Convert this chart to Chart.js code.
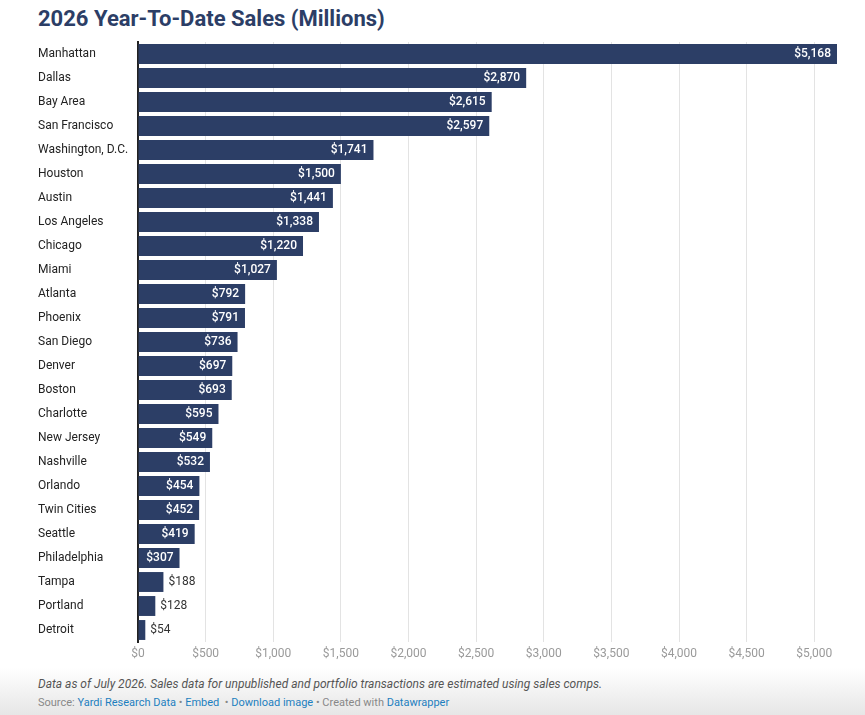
<!DOCTYPE html>
<html>
<head>
<meta charset="utf-8">
<script src="https://cdn.jsdelivr.net/npm/chart.js@4"></script>
<style>
  html, body { margin: 0; padding: 0; }
  body {
    width: 865px; height: 715px; position: relative; overflow: hidden;
    font-family: Roboto, "Noto Sans", sans-serif;
    background: linear-gradient(to bottom, #fff 0px, #fff 668px, #e6e6e6 715px);
  }
  h1 {
    position: absolute; left: 38px; top: 6px; margin: 0;
    font-size: 22px; font-weight: 700; color: #2c3e66;
  }
  #wrap { position: absolute; left: 0; top: 0; width: 865px; height: 671px; }
  .notes { position: absolute; left: 38px; top: 677px; font-size: 12px; font-style: italic; color: #555; }
  .source { position: absolute; left: 38px; top: 696px; font-size: 11px; color: #888; }
  .source a { color: #1d7fbf; text-decoration: none; }
</style>
</head>
<body>
<h1>2026 Year-To-Date Sales (Millions)</h1>
<div id="wrap"><canvas id="barChart"></canvas></div>
<div class="notes">Data as of July 2026. Sales data for unpublished and portfolio transactions are estimated using sales comps.</div>
<div class="source">Source: <a href="#">Yardi Research Data</a> • <a href="#">Embed</a> &nbsp;• <a href="#">Download image</a> • Created with <a href="#">Datawrapper</a></div>

<script>
// Data
const markets = ['Manhattan', 'Dallas', 'Bay Area', 'San Francisco', 'Washington, D.C.', 'Houston',
    'Austin', 'Los Angeles', 'Chicago', 'Miami', 'Atlanta', 'Phoenix', 'San Diego', 'Denver',
    'Boston', 'Charlotte', 'New Jersey', 'Nashville', 'Orlando', 'Twin Cities', 'Seattle',
    'Philadelphia', 'Tampa', 'Portland', 'Detroit'];
const sales = [5168, 2870, 2615, 2597, 1741, 1500, 1441, 1338, 1220, 1027, 792, 791, 736, 697,
    693, 595, 549, 532, 454, 452, 419, 307, 188, 128, 54];
const xTicks = [0, 500, 1000, 1500, 2000, 2500, 3000, 3500, 4000, 4500, 5000];

const barColor = '#2c3e66';
const fmt = v => '$' + v.toLocaleString('en-US');

// value labels: inside the bar if they fit, otherwise just after it
const valueLabels = {
    id: 'valueLabels',
    afterDatasetsDraw(chart) {
        const ctx = chart.ctx;
        const meta = chart.getDatasetMeta(0);
        ctx.save();
        ctx.textBaseline = 'middle';
        meta.data.forEach((bar, i) => {
            const text = fmt(sales[i]);
            ctx.font = '500 12px Roboto';
            const w = ctx.measureText(text).width;
            const barW = bar.x - bar.base;
            if (w + 10 <= barW) {
                ctx.fillStyle = '#fff';
                ctx.textAlign = 'right';
                ctx.fillText(text, bar.x - 6, bar.y);
            } else {
                ctx.font = '400 12px Roboto';
                ctx.fillStyle = '#333';
                ctx.textAlign = 'left';
                ctx.fillText(text, bar.x + 5, bar.y);
            }
        });
        ctx.restore();
    }
};

const ctx = document.getElementById('barChart').getContext('2d');
new Chart(ctx, {
    type: 'bar',
    data: {
        labels: markets,
        datasets: [{
            data: sales,
            backgroundColor: barColor,
            barPercentage: 0.83,
            categoryPercentage: 1
        }]
    },
    options: {
        indexAxis: 'y',
        responsive: true,
        maintainAspectRatio: false,
        animation: false,
        layout: {
            padding: { left: 38, right: 28, top: 42, bottom: 0 }
        },
        plugins: {
            legend: { display: false },
            title: { display: false },
            tooltip: { enabled: false }
        },
        scales: {
            x: {
                min: 0,
                max: 5168,
                afterBuildTicks: scale => { scale.ticks = xTicks.map(v => ({ value: v })); },
                afterFit: scale => { scale.height = 29; },
                grid: {
                    color: c => (c.tick && c.tick.value === 0 ? 'rgba(0,0,0,0)' : '#e3e3e3'),
                    drawTicks: false
                },
                border: { display: false },
                ticks: {
                    padding: 5,
                    color: '#9a9a9a',
                    font: { family: 'Roboto', size: 12 },
                    callback: v => fmt(v)
                }
            },
            y: {
                afterFit: scale => { scale.width = 100; },
                grid: { display: false },
                border: { display: true, color: '#222', width: 2 },
                ticks: {
                    crossAlign: 'far',
                    padding: 0,
                    color: '#222',
                    font: { family: 'Roboto', size: 12 }
                }
            }
        }
    },
    plugins: [valueLabels]
});
</script>
</body>
</html>
